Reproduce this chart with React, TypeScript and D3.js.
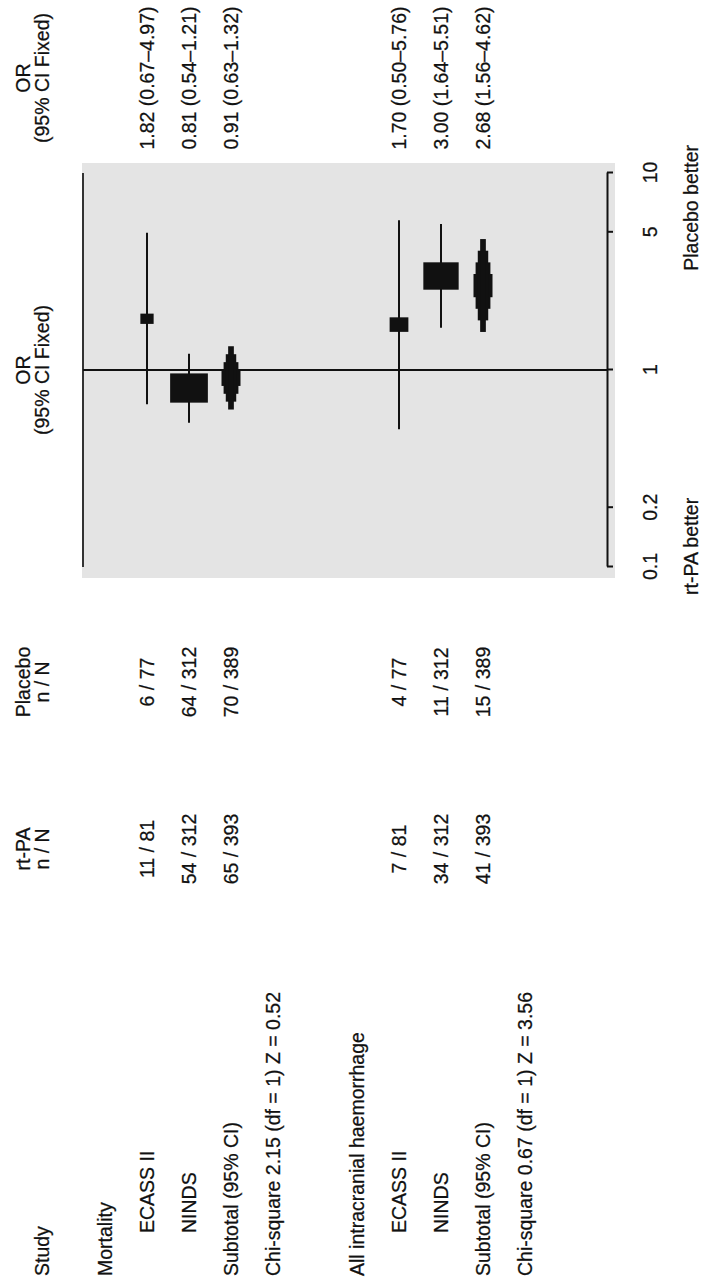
import React, { useEffect, useRef } from 'react';
import * as d3 from 'd3';

const W = 705;
const H = 1283;
const FONT = "'Liberation Sans', Arial, Helvetica, sans-serif";
const INK = '#111111';
const FS = 19.5;

// ---- data ----
const outcomes = ['Mortality', 'All intracranial haemorrhage'];
const studyNames = ['ECASS II', 'NINDS'];
const rtpaEvents = [[11, 54], [7, 34]];
const rtpaTotals = [[81, 312], [81, 312]];
const placeboEvents = [[6, 64], [4, 11]];
const placeboTotals = [[77, 312], [77, 312]];
const orEst = [[1.82, 0.81], [1.7, 3.0]];
const orLow = [[0.67, 0.54], [0.5, 1.64]];
const orHigh = [[4.97, 1.21], [5.76, 5.51]];
const subEst = [0.91, 2.68];
const subLow = [0.63, 1.56];
const subHigh = [1.32, 4.62];
const weights = [[11, 89], [22, 78]];
const heterogeneity = ['Chi-square 2.15 (df = 1) Z = 0.52', 'Chi-square 0.67 (df = 1) Z = 3.56'];
const axisTicks = [0.1, 0.2, 1, 5, 10];
const favourLabels = ['rt-PA better', 'Placebo better'];
const headerStudy = 'Study';
const headerTrt = ['rt-PA', 'n / N'];
const headerCtl = ['Placebo', 'n / N'];
const headerOR = ['OR', '(95% CI Fixed)'];

const fmt = d3.format('.2f');
const orText = (e: number, l: number, h: number) => `${fmt(e)} (${fmt(l)}–${fmt(h)})`;

export default function App() {
  const axisRef = useRef<SVGGElement>(null);
  const x = d3.scaleLog().domain([0.1, 10]).range([716, 1110]);
  const row = d3.scaleLinear().domain([0, 1]).range([105, 147]);
  const boxW = d3.scaleSqrt().domain([0, 100]).range([0, 40]);
  const boxH = d3.scaleSqrt().domain([0, 100]).range([0, 31]);

  const studyX = 7;
  const indentX = 50;
  const trtX = 434;
  const ctlX = 601;
  const orX = 1205;
  const axisY = 607;
  const dy = 7;

  useEffect(() => {
    if (!axisRef.current) return;
    const g = d3.select(axisRef.current);
    g.selectAll('*').remove();
    g.call(
      d3
        .axisBottom(x)
        .tickValues(axisTicks)
        .tickFormat((d) => d3.format('')(d as number))
        .tickSize(6)
        .tickSizeOuter(0)
        .tickPadding(30)
    );
    g.select('.domain').attr('stroke', INK).attr('stroke-width', 2);
    g.selectAll('.tick line').attr('stroke', INK).attr('stroke-width', 2);
    g.selectAll('.tick text')
      .attr('font-size', FS)
      .attr('font-family', FONT)
      .attr('fill', INK)
      .attr('stroke', INK)
      .attr('stroke-width', 0.25);
  }, []);

  const textProps = { fontFamily: FONT, fontSize: FS, fill: INK, stroke: INK, strokeWidth: 0.25 };

  const stepDiamond = (e: number, l: number, h: number, cy: number, hw: number) => {
    const steps = [0.25, 0.5, 0.75, 1];
    const widths = [1, 0.78, 0.55, 0.3];
    return steps.map((f, i) => {
      const x0 = x(e) - (x(e) - x(l)) * f;
      const x1 = x(e) + (x(h) - x(e)) * f;
      const w = hw * widths[i];
      return <rect key={i} x={x0} y={cy - w} width={x1 - x0} height={2 * w} fill={INK} />;
    });
  };

  const groups = outcomes.map((title, gi) => {
    const base = gi * 6;
    const els: React.ReactNode[] = [];
    els.push(
      <text key="t" x={studyX} y={row(base) + dy} {...textProps}>{title}</text>
    );
    studyNames.forEach((s, si) => {
      const cy = row(base + 1 + si);
      const bw = boxW(weights[gi][si]);
      const bh = boxH(weights[gi][si]);
      els.push(
        <g key={'s' + si}>
          <text x={indentX} y={cy + dy} {...textProps}>{s}</text>
          <text x={trtX} y={cy + dy} textAnchor="middle" {...textProps}>{`${rtpaEvents[gi][si]} / ${rtpaTotals[gi][si]}`}</text>
          <text x={ctlX} y={cy + dy} textAnchor="middle" {...textProps}>{`${placeboEvents[gi][si]} / ${placeboTotals[gi][si]}`}</text>
          <text x={orX} y={cy + dy} textAnchor="middle" {...textProps}>{orText(orEst[gi][si], orLow[gi][si], orHigh[gi][si])}</text>
          <line x1={x(orLow[gi][si])} x2={x(orHigh[gi][si])} y1={cy} y2={cy} stroke={INK} strokeWidth={2} />
          <rect x={x(orEst[gi][si]) - bh / 2} y={cy - bw / 2} width={bh} height={bw} fill={INK} />
        </g>
      );
    });
    const sy = row(base + 3);
    els.push(
      <g key="sub">
        <text x={studyX} y={sy + dy} {...textProps}>Subtotal (95% CI)</text>
        <text x={trtX} y={sy + dy} textAnchor="middle" {...textProps}>{`${d3.sum(rtpaEvents[gi])} / ${d3.sum(rtpaTotals[gi])}`}</text>
        <text x={ctlX} y={sy + dy} textAnchor="middle" {...textProps}>{`${d3.sum(placeboEvents[gi])} / ${d3.sum(placeboTotals[gi])}`}</text>
        <text x={orX} y={sy + dy} textAnchor="middle" {...textProps}>{orText(subEst[gi], subLow[gi], subHigh[gi])}</text>
        {stepDiamond(subEst[gi], subLow[gi], subHigh[gi], sy, 9.5)}
      </g>
    );
    els.push(
      <text key="h" x={studyX} y={row(base + 4) + dy} {...textProps}>{heterogeneity[gi]}</text>
    );
    return <g key={gi}>{els}</g>;
  });

  const headerCols: [number, string[]][] = [
    [trtX, headerTrt],
    [ctlX, headerCtl],
    [x(1), headerOR],
    [orX, headerOR],
  ];

  return (
    <svg width={W} height={H} style={{ position: 'absolute', left: 0, top: 0, background: '#fff' }}>
      <g transform={`translate(0,${H}) rotate(-90)`}>
        {/* plot panel */}
        <rect x={705} y={82} width={415} height={533} fill="#e4e4e4" />
        <line x1={x(0.1)} x2={x(10)} y1={83} y2={83} stroke="#333" strokeWidth={2} />
        <line x1={x(1)} x2={x(1)} y1={83} y2={axisY} stroke={INK} strokeWidth={2} />
        <g ref={axisRef} transform={`translate(0,${axisY})`} />
        <text x={x(0.1) - 28} y={698} {...textProps}>{favourLabels[0]}</text>
        <text x={x(10) + 28} y={698} textAnchor="end" {...textProps}>{favourLabels[1]}</text>

        {/* headers */}
        <text x={studyX} y={49} {...textProps}>{headerStudy}</text>
        {headerCols.map(([cx, lines], i) => (
          <g key={i}>
            <text x={cx} y={30} textAnchor="middle" {...textProps}>{lines[0]}</text>
            <text x={cx} y={49} textAnchor="middle" {...textProps}>{lines[1]}</text>
          </g>
        ))}
        {groups}
      </g>
    </svg>
  );
}
